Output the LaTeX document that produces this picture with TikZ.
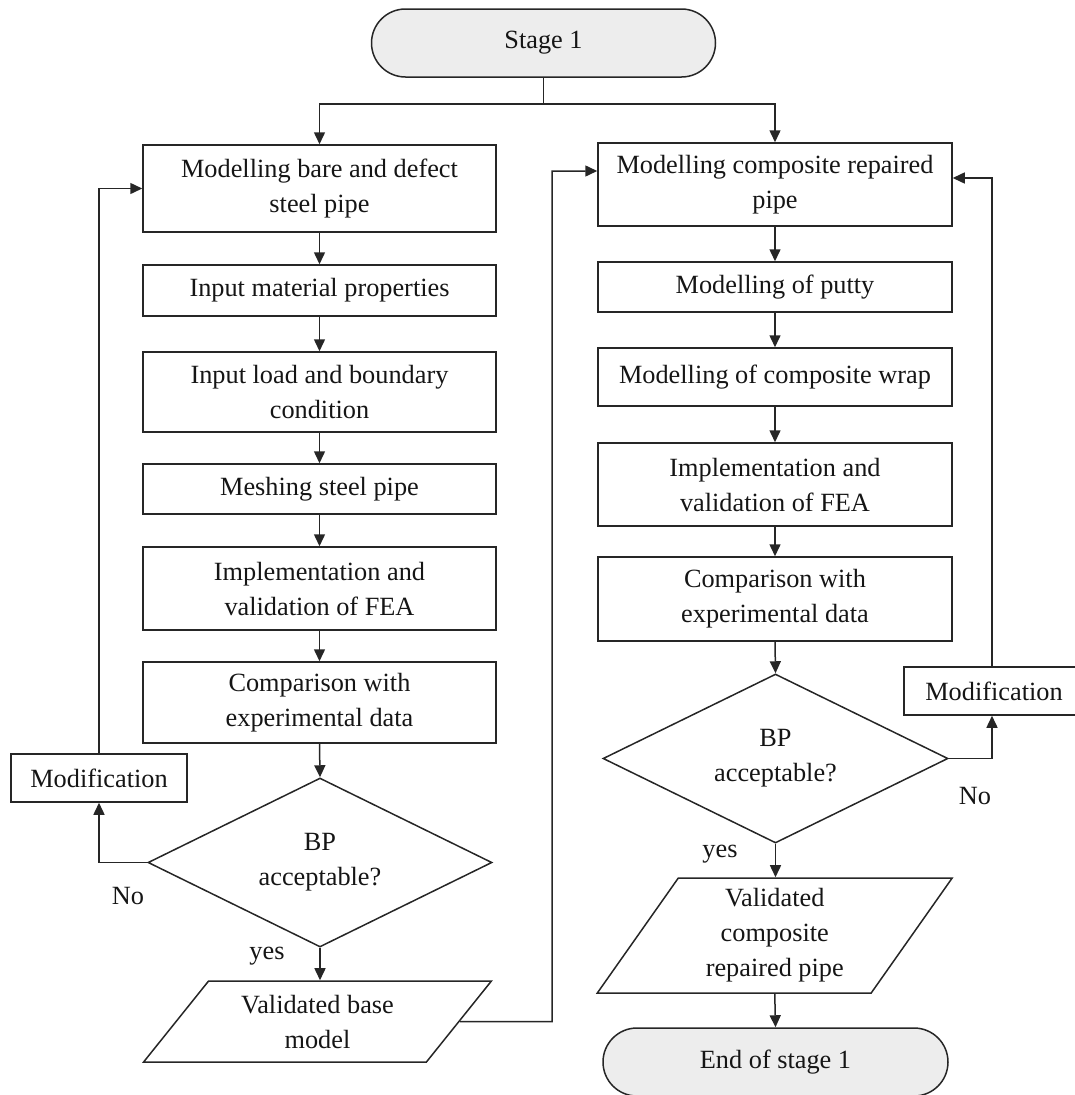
\documentclass[tikz,border=0pt]{standalone}
\usepackage{fontspec}
\setmainfont{Liberation Serif}
\usetikzlibrary{shapes.geometric,arrows.meta}
\definecolor{inkline}{HTML}{262626}
\definecolor{inktext}{HTML}{151515}
\definecolor{termfill}{HTML}{EDEDED}
\begin{document}
\begin{tikzpicture}[x=1pt,y=-1pt,
  every node/.style={font=\fontsize{26.3}{35}\selectfont, text=inktext, inner sep=0pt, align=center},
  base/.style={draw=inkline, line width=1.5pt},
  procbox/.style={base, rectangle, minimum width=353pt},
  terminal/.style={base, rectangle, rounded corners=34pt, fill=termfill,
    minimum width=344pt, minimum height=68pt},
  decision/.style={base, diamond, aspect=2, minimum width=344pt, minimum height=169pt},
  datain/.style={base, trapezium, trapezium stretches=true},
  modbox/.style={base, rectangle, minimum width=180pt, minimum height=48pt},
  flow/.style={draw=inkline, line width=1.5pt, -{Triangle[length=12pt,width=11pt]}}
]
\useasboundingbox (0,0) rectangle (1075,1095);

% start terminal
\node[terminal] (start) at (543.5,43) {Stage 1};

% left column: base model of the steel pipe
\node[procbox, minimum height=87pt] (L1) at (319.5,188.5) {Modelling bare and defect\\steel pipe};
\node[procbox, minimum height=51pt] (L2) at (319.5,290.5) {Input material properties};
\node[procbox, minimum height=80pt] (L3) at (319.5,392) {Input load and boundary\\condition};
\node[procbox, minimum height=50pt] (L4) at (319.5,489) {Meshing steel pipe};
\node[procbox, minimum height=83pt] (L5) at (319.5,588.5) {Implementation and\\validation of FEA};
\node[procbox, minimum height=81pt] (L6) at (319.5,702.5) {Comparison with\\experimental data};
\node[decision] (Ld) at (320,862.5) {BP\\acceptable?};
\node[datain, trapezium left angle=49.6, trapezium right angle=130.4,
  minimum width=349pt, minimum height=81pt] (Lout) at (317.5,1021.5) {Validated base\\model};
\node[modbox, minimum width=176pt] (Lmod) at (99,778) {Modification};

% right column: composite repaired pipe
\node[procbox, minimum width=354pt, minimum height=83pt] (R1) at (775,184.5) {Modelling composite repaired\\pipe};
\node[procbox, minimum width=354pt, minimum height=50pt] (R2) at (775,287) {Modelling of putty};
\node[procbox, minimum width=354pt, minimum height=58pt] (R3) at (775,377) {Modelling of composite wrap};
\node[procbox, minimum width=354pt, minimum height=83pt] (R4) at (775,484.5) {Implementation and\\validation of FEA};
\node[procbox, minimum width=354pt, minimum height=84pt] (R5) at (775,599) {Comparison with\\experimental data};
\node[decision, minimum width=345pt] (Rd) at (775.5,758.5) {BP\\acceptable?};
\node[datain, trapezium left angle=58.3, trapezium right angle=121.7,
  minimum width=355pt, minimum height=115pt] (Rout) at (774.75,935.5) {Validated\\composite\\repaired pipe};
\node[modbox] (Rmod) at (994,691) {Modification};
\node[terminal, minimum width=345pt] (finish) at (775.5,1062) {End of stage 1};

% branch labels
\node (noL) at (128,896) {No};
\node (yesL) at (267,956) {yes};
\node (noR) at (975,796) {No};
\node (yesR) at (720,854) {yes};

% split from the start terminal
\draw[flow] (start.south) -- ++(0,26) -| (L1.north);
\draw[flow] (start.south) -- ++(0,26) -| (R1.north);

% main flow, left
\draw[flow] (L1.south) -- (L2.north);
\draw[flow] (L2.south) -- (L3.north);
\draw[flow] (L3.south) -- (L4.north);
\draw[flow] (L4.south) -- (L5.north);
\draw[flow] (L5.south) -- (L6.north);
\draw[flow] (L6.south) -- (Ld.north);
\draw[flow] (Ld.south) -- (Ld.south |- Lout.north);

% feedback loop, left
\draw[flow] (Ld.west) -| (Lmod.south);
\draw[flow] (Lmod.north) |- (L1.west);

% hand-over to the right column
\coordinate (cross) at (552,1021.5);
\draw[flow] (Lout.east) -- (cross) |- ([yshift=13.5pt]R1.west);

% main flow, right
\draw[flow] (R1.south) -- (R2.north);
\draw[flow] (R2.south) -- (R3.north);
\draw[flow] (R3.south) -- (R4.north);
\draw[flow] (R4.south) -- (R5.north);
\draw[flow] (R5.south) -- (Rd.north);
\draw[flow] (Rd.south) -- (Rd.south |- Rout.north);
\draw[flow] (Rout.south) -- (finish.north);

% feedback loop, right
\draw[flow] (Rd.east) -| ([xshift=-2pt]Rmod.south);
\draw[flow] ([xshift=-2pt]Rmod.north) |- ([yshift=6.5pt]R1.east);
\end{tikzpicture}
\end{document}
